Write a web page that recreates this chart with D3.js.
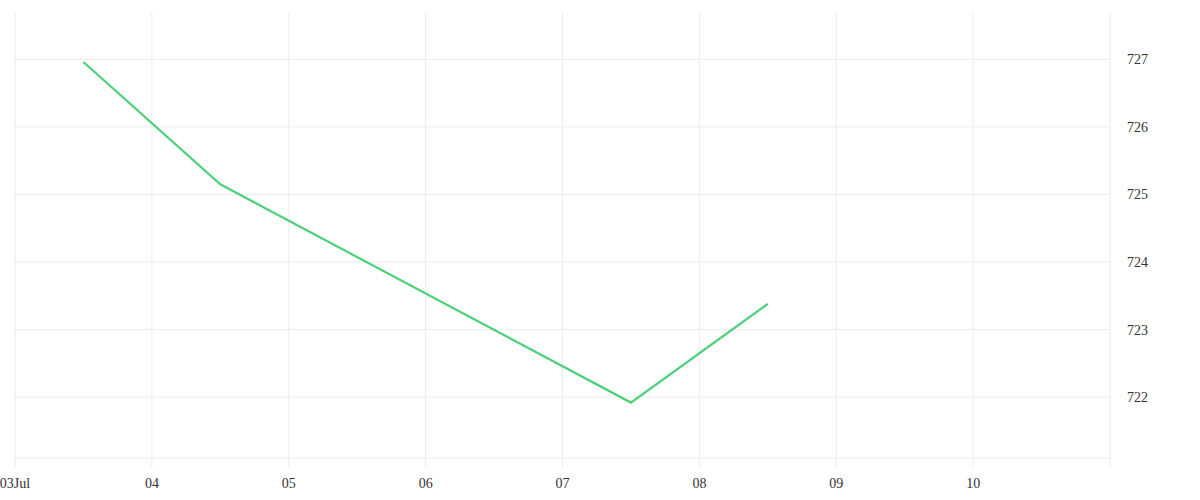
<!DOCTYPE html>
<html>
<head>
<meta charset="utf-8">
<script src="https://cdn.jsdelivr.net/npm/d3@7"></script>
<style>
  body { margin: 0; background: #fff; }
  text { font-family: "Liberation Serif", serif; font-size: 14px; fill: #333; }
</style>
</head>
<body>
<div id="chart"></div>
<script>
const dates = ["2023-07-03T12:00", "2023-07-04T12:00", "2023-07-07T12:00", "2023-07-08T12:00"];
const values = [726.96, 725.15, 721.92, 723.38];
const yTicks = [722, 723, 724, 725, 726, 727];

const width = 1200, height = 500;
const mLeft = 15, mRight = 1110, mTop = 12, mBottom = 458;

const parse = d3.timeParse("%Y-%m-%dT%H:%M");
const data = dates.map((d, i) => ({ date: parse(d), value: values[i] }));

const x = d3.scaleTime()
    .domain([new Date(2023, 6, 3), new Date(2023, 6, 11)])
    .range([mLeft, mRight]);

const y = d3.scaleLinear()
    .domain([721.1, 727.7])
    .range([mBottom, mTop]);

const svg = d3.select("#chart").append("svg")
    .attr("width", width)
    .attr("height", height);

const days = d3.timeDay.range(new Date(2023, 6, 3), new Date(2023, 6, 12));

// vertical grid
svg.append("g").selectAll("line")
    .data(days)
    .join("line")
    .attr("x1", d => x(d)).attr("x2", d => x(d))
    .attr("y1", mTop).attr("y2", mBottom + 10)
    .attr("stroke", "#ececec")
    .attr("stroke-width", 1);

// horizontal grid
svg.append("g").selectAll("line")
    .data(yTicks)
    .join("line")
    .attr("x1", mLeft).attr("x2", mRight)
    .attr("y1", d => y(d)).attr("y2", d => y(d))
    .attr("stroke", "#ececec")
    .attr("stroke-width", 1);

svg.append("line")
    .attr("x1", mLeft).attr("x2", mRight)
    .attr("y1", mBottom).attr("y2", mBottom)
    .attr("stroke", "#ececec");

// x labels
const fmt = d => d.getDate() === 3 ? d3.timeFormat("%d%b")(d) : d3.timeFormat("%d")(d);
svg.append("g").selectAll("text")
    .data(days.slice(0, 8))
    .join("text")
    .attr("x", d => x(d))
    .attr("y", 488)
    .attr("text-anchor", "middle")
    .text(fmt);

// y labels
svg.append("g").selectAll("text")
    .data(yTicks)
    .join("text")
    .attr("x", 1127)
    .attr("y", d => y(d))
    .attr("dy", "0.35em")
    .text(d => d);

const line = d3.line()
    .x(d => x(d.date))
    .y(d => y(d.value));

svg.append("path")
    .datum(data)
    .attr("d", line)
    .attr("fill", "none")
    .attr("stroke", "#4cd07a")
    .attr("stroke-width", 2.2)
    .attr("stroke-linejoin", "miter");
</script>
</body>
</html>
